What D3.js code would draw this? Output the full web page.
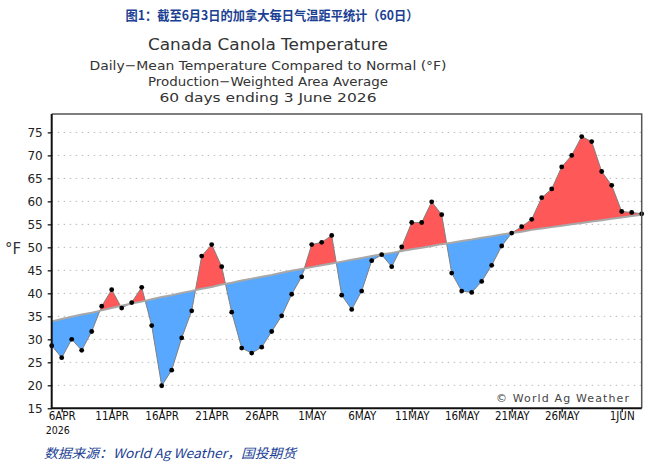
<!DOCTYPE html>
<html>
<head>
<meta charset="utf-8">
<script src="https://cdn.jsdelivr.net/npm/d3@7"></script>
<style>
  body { margin: 0; background: #fff; }
  svg { display: block; }
</style>
</head>
<body>
<div class="chart_frame"></div>
<script>
// daily mean temperature, 5 Apr .. 3 Jun 2026 (60 days)
var observed = [
  28.6, 26.0, 30.0, 27.6, 31.7, 37.2, 40.8, 36.8, 38.0, 41.3,
  33.0, 19.9, 23.3, 30.3, 36.2, 48.1, 50.6, 45.8, 35.9, 28.1,
  27.0, 28.3, 31.7, 35.1, 39.8, 43.6, 50.6, 51.1, 52.6, 39.6,
  36.5, 40.5, 47.1, 48.4, 45.8, 50.1, 55.4, 55.4, 59.9, 57.1,
  44.4, 40.5, 40.2, 42.6, 46.1, 50.3, 53.1, 54.5, 56.1, 60.8,
  62.7, 67.5, 70.0, 74.1, 73.0, 66.5, 63.5, 57.8, 57.6, 57.3
];
var normal = [
  33.9, 34.4, 34.9, 35.4, 35.8, 36.3, 36.8, 37.3, 37.8, 38.2,
  38.7, 39.2, 39.6, 40.1, 40.5, 41.0, 41.4, 41.9, 42.3, 42.8,
  43.2, 43.6, 44.0, 44.5, 44.9, 45.3, 45.7, 46.1, 46.5, 46.9,
  47.3, 47.7, 48.1, 48.5, 48.8, 49.2, 49.6, 49.9, 50.3, 50.7,
  51.0, 51.4, 51.7, 52.1, 52.4, 52.8, 53.1, 53.4, 53.8, 54.1,
  54.4, 54.7, 55.0, 55.3, 55.6, 55.9, 56.2, 56.5, 56.8, 57.1
];
var startDate = new Date(2026, 3, 5);
var xTickDates = [
  new Date(2026, 3, 6), new Date(2026, 3, 11), new Date(2026, 3, 16),
  new Date(2026, 3, 21), new Date(2026, 3, 26), new Date(2026, 4, 1),
  new Date(2026, 4, 6), new Date(2026, 4, 11), new Date(2026, 4, 16),
  new Date(2026, 4, 21), new Date(2026, 4, 26), new Date(2026, 5, 1)
];
var xTickLabels = ["6APR", "11APR", "16APR", "21APR", "26APR", "1MAY",
                   "6MAY", "11MAY", "16MAY", "21MAY", "26MAY", "1JUN"];
var yTicks = [15, 20, 25, 30, 35, 40, 45, 50, 55, 60, 65, 70, 75];

var cnTitle = "图1：截至6月3日的加拿大每日气温距平统计（60日）";
var titles = ["Canada Canola Temperature",
              "Daily\u2212Mean Temperature Compared to Normal (°F)",
              "Production\u2212Weighted Area Average",
              "60 days ending 3 June 2026"];
var sourceText = "数据来源：World Ag Weather，国投期货";

var width = 652, height = 466;
var plot = {left: 51.7, right: 641.7, top: 114, bottom: 408.3};

var days = observed.map(function(v, i) { return d3.timeDay.offset(startDate, i); });
var rows = observed.map(function(v, i) { return {date: days[i], obs: v, norm: normal[i]}; });

var x = d3.scaleTime()
    .domain([days[0], days[days.length - 1]])
    .range([plot.left, plot.right]);
var y = d3.scaleLinear()
    .domain([15, 79])
    .range([plot.bottom, plot.top]);

var svg = d3.select('.chart_frame').append('svg')
    .attr('width', width)
    .attr('height', height);

// titles
svg.append('text')
    .attr('x', 272).attr('y', 19.5)
    .attr('text-anchor', 'middle')
    .attr('textLength', 293)
    .attr('lengthAdjust', 'spacingAndGlyphs')
    .style('font-family', '"Noto Sans CJK SC", sans-serif')
    .style('font-weight', 'bold')
    .style('font-size', '13px')
    .style('fill', '#1b3f94')
    .text(cnTitle);

var titleRows = [
    {y: 50, size: 15, len: 240},
    {y: 70, size: 13, len: 357},
    {y: 86, size: 13, len: 240},
    {y: 102, size: 13, len: 217}
];
titles.forEach(function(t, i) {
    svg.append('text')
        .attr('x', 268).attr('y', titleRows[i].y)
        .attr('text-anchor', 'middle')
        .attr('textLength', titleRows[i].len)
        .attr('lengthAdjust', 'spacingAndGlyphs')
        .style('font-family', '"DejaVu Sans", sans-serif')
        .style('font-size', titleRows[i].size + 'px')
        .style('fill', '#333')
        .text(t);
});

var chart = svg.append('g').attr('class', 'chart');

// grid
chart.append('g').attr('class', 'grid')
    .selectAll('line')
    .data(yTicks.filter(function(t) { return t > 15; }))
    .enter().append('line')
    .attr('x1', plot.left).attr('x2', plot.right)
    .attr('y1', function(d) { return y(d); })
    .attr('y2', function(d) { return y(d); })
    .style('stroke', '#b8b8b8')
    .style('stroke-width', 1)
    .style('stroke-dasharray', '1.5,4.5');

// clip regions above / below the normal curve
var defs = svg.append('defs');
defs.append('clipPath').attr('id', 'clip_above')
    .append('path')
    .attr('d', d3.area()
        .x(function(d) { return x(d.date); })
        .y0(plot.top - 10)
        .y1(function(d) { return y(d.norm); })(rows));
defs.append('clipPath').attr('id', 'clip_below')
    .append('path')
    .attr('d', d3.area()
        .x(function(d) { return x(d.date); })
        .y0(plot.bottom + 10)
        .y1(function(d) { return y(d.norm); })(rows));

var between = d3.area()
    .x(function(d) { return x(d.date); })
    .y0(function(d) { return y(d.norm); })
    .y1(function(d) { return y(d.obs); });

chart.append('path')
    .attr('d', between(rows))
    .attr('clip-path', 'url(#clip_above)')
    .style('fill', '#ff5858');
chart.append('path')
    .attr('d', between(rows))
    .attr('clip-path', 'url(#clip_below)')
    .style('fill', '#58a8ff');

// observed line
chart.append('path')
    .datum(rows)
    .attr('d', d3.line()
        .x(function(d) { return x(d.date); })
        .y(function(d) { return y(d.obs); }))
    .style('fill', 'none')
    .style('stroke', '#808080')
    .style('stroke-width', 1);

// normal line
chart.append('path')
    .datum(rows)
    .attr('d', d3.line()
        .x(function(d) { return x(d.date); })
        .y(function(d) { return y(d.norm); }))
    .style('fill', 'none')
    .style('stroke', '#a8a8a8')
    .style('stroke-width', 2);

// dots
chart.append('g').attr('class', 'dots')
    .selectAll('circle')
    .data(rows)
    .enter().append('circle')
    .attr('cx', function(d) { return x(d.date); })
    .attr('cy', function(d) { return y(d.obs); })
    .attr('r', 2.4)
    .style('fill', '#000');

// frame top / right
chart.append('path')
    .attr('d', 'M' + plot.left + ',' + plot.top + 'H' + plot.right + 'V' + plot.bottom)
    .style('fill', 'none')
    .style('stroke', '#555')
    .style('stroke-width', 1.5);

// y axis
var yAxis = chart.append('g')
    .attr('transform', 'translate(' + plot.left + ',0)')
    .call(d3.axisLeft(y).tickValues(yTicks).tickSize(4).tickPadding(5));
yAxis.select('.domain').remove();
yAxis.selectAll('.tick line').style('stroke', '#000').style('stroke-width', 1.2);
yAxis.selectAll('.tick text')
    .style('font-family', '"DejaVu Sans", sans-serif')
    .style('font-size', '12px')
    .style('fill', '#222');

// x axis
var xAxis = chart.append('g')
    .attr('transform', 'translate(0,' + plot.bottom + ')')
    .call(d3.axisBottom(x).tickValues(xTickDates).tickSize(4).tickPadding(0)
        .tickFormat(function(d, i) { return xTickLabels[i]; }));
xAxis.select('.domain').remove();
xAxis.selectAll('.tick line').style('stroke', '#000').style('stroke-width', 1.2);
xAxis.selectAll('.tick text')
    .style('font-family', '"DejaVu Sans Condensed", "Liberation Sans Narrow", sans-serif')
    .style('font-size', '11.5px')
    .style('fill', '#111');

chart.append('text')
    .attr('x', x(xTickDates[0]) - 4).attr('y', plot.bottom + 26)
    .attr('text-anchor', 'middle')
    .style('font-family', '"DejaVu Sans Condensed", "Liberation Sans Narrow", sans-serif')
    .style('font-size', '10.5px')
    .style('fill', '#111')
    .text('2026');

// axis lines
chart.append('path')
    .attr('d', 'M' + plot.left + ',' + plot.top + 'V' + plot.bottom + 'H' + plot.right)
    .style('fill', 'none')
    .style('stroke', '#111')
    .style('stroke-width', 2);

// unit label
chart.append('text')
    .attr('x', 13).attr('y', 254)
    .attr('text-anchor', 'middle')
    .style('font-family', '"DejaVu Sans", sans-serif')
    .style('font-size', '15px')
    .style('fill', '#333')
    .text('°F');

// copyright
chart.append('text')
    .attr('x', 496).attr('y', 402)
    .attr('textLength', 133)
    .attr('lengthAdjust', 'spacing')
    .style('font-family', '"DejaVu Sans", sans-serif')
    .style('font-size', '11px')
    .style('fill', '#444')
    .text('© World Ag Weather');

// source
svg.append('text')
    .attr('x', 44).attr('y', 458)
    .attr('textLength', 252)
    .attr('lengthAdjust', 'spacingAndGlyphs')
    .style('font-family', '"Noto Sans CJK SC", sans-serif')
    .style('font-style', 'italic')
    .style('font-size', '13px')
    .style('fill', '#1b3f94')
    .text(sourceText);
</script>
</body>
</html>
